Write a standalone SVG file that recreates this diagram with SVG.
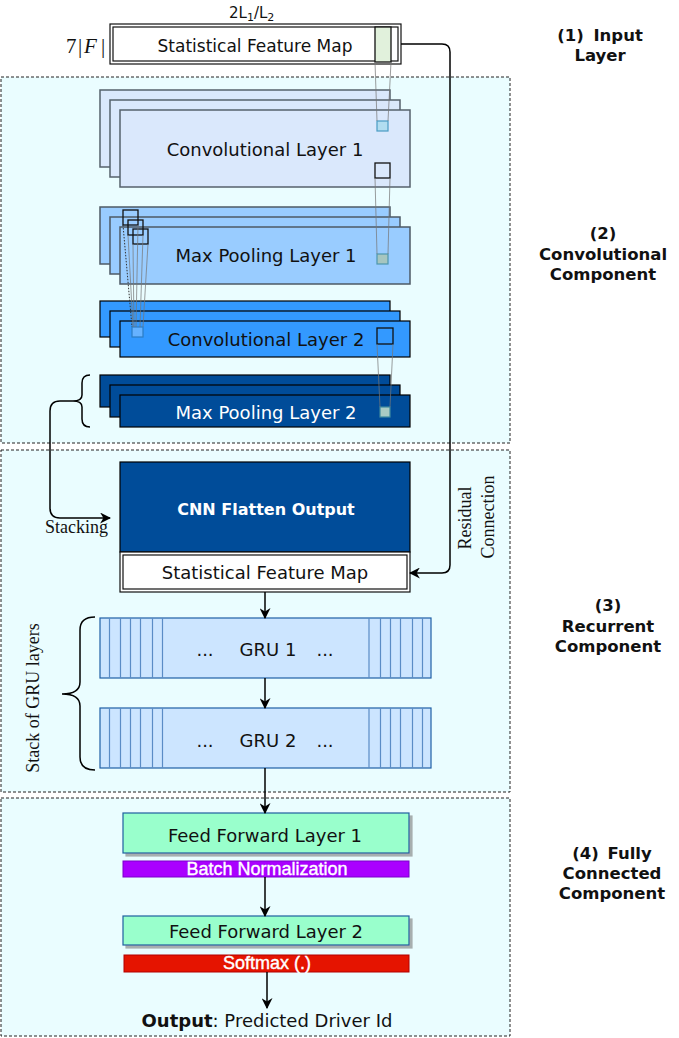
<svg xmlns="http://www.w3.org/2000/svg" width="679" height="1038" viewBox="0 0 679 1038">
<defs>
<marker id="arr" viewBox="0 0 10 10" refX="9" refY="5" markerWidth="11" markerHeight="11" markerUnits="userSpaceOnUse" orient="auto">
<path d="M0,0 L10,5 L0,10 L3,5 z" fill="#000"/>
</marker>
<filter id="shadow" x="-5%" y="-20%" width="115%" height="160%">
<feOffset dx="3" dy="3" in="SourceAlpha" result="o"/>
<feFlood flood-color="#7a7a7a" flood-opacity="0.6"/>
<feComposite in2="o" operator="in" result="s"/>
<feMerge><feMergeNode in="s"/><feMergeNode in="SourceGraphic"/></feMerge>
</filter>
</defs>
<style>
.sec{fill:#eafdff;stroke:#222;stroke-width:1;stroke-dasharray:3 2}
.t{font-family:"DejaVu Sans",Verdana,sans-serif;font-size:18px;fill:#111;text-anchor:middle}
.tw{font-family:"DejaVu Sans",Verdana,sans-serif;font-size:18px;fill:#fff;text-anchor:middle}
.lab{font-family:"DejaVu Sans",Verdana,sans-serif;font-size:16.5px;font-weight:bold;fill:#111;text-anchor:middle}
.ser{font-family:"Liberation Serif","Times New Roman",serif;font-size:18px;fill:#111}
.ar{font-family:"Liberation Sans",Arial,sans-serif;font-size:18px;fill:#fff;stroke:#fff;stroke-width:0.4;text-anchor:middle}
.c1{fill:#dae8fc;stroke:#56616c;stroke-width:1.5}
.p1{fill:#99ccff;stroke:#4d5a66;stroke-width:1.5}
.c2{fill:#3399ff;stroke:#000;stroke-width:1.2}
.p2{fill:#004c99;stroke:#000;stroke-width:1.2}
.gru{fill:#cce5ff;stroke:#1f5fa6;stroke-width:1.2}
.gl{stroke:#5a8cc6;stroke-width:1.2}
.ff{fill:#99ffcc;stroke:#1f5f9f;stroke-width:1.2}
.sq{fill:none;stroke:#111;stroke-width:1.3}
.thin{stroke:#777;stroke-width:0.9;fill:none;stroke-opacity:0.8}
.dot{stroke:#333;stroke-width:1;fill:none;stroke-dasharray:1.5 1.5}
.conn{stroke:#000;stroke-width:1.5;fill:none}
</style>

<g id="sections">
<rect class="sec" x="1" y="77" width="509" height="366"/>
<rect class="sec" x="1" y="450" width="509" height="342"/>
<rect class="sec" x="1" y="798" width="509" height="238"/>
</g>

<g id="labels">
<text class="lab" x="600" y="41" word-spacing="4">(1) Input</text>
<text class="lab" x="600" y="61">Layer</text>
<text class="lab" x="603" y="239">(2)</text>
<text class="lab" x="603" y="260">Convolutional</text>
<text class="lab" x="603" y="280">Component</text>
<text class="lab" x="608" y="611">(3)</text>
<text class="lab" x="608" y="632">Recurrent</text>
<text class="lab" x="608" y="652">Component</text>
<text class="lab" x="612" y="859" word-spacing="3">(4) Fully</text>
<text class="lab" x="612" y="879">Connected</text>
<text class="lab" x="612" y="899">Component</text>
</g>

<g id="input">
<rect x="110" y="24" width="291" height="40" fill="#fff" stroke="#111" stroke-width="1.2"/>
<rect x="113" y="27" width="285" height="34" fill="#fff" stroke="#111" stroke-width="1.2"/>
<rect x="375" y="27" width="16" height="35" fill="#e1f1dc" stroke="#111" stroke-width="1.3"/>
<text class="t" x="255" y="52" style="font-size:17px">Statistical Feature Map</text>
<text font-family="DejaVu Sans,sans-serif" font-size="15" fill="#111" x="229" y="18">2L<tspan font-size="11" dy="3">1</tspan><tspan dy="-3">/L</tspan><tspan font-size="11" dy="3">2</tspan></text>
<text class="ser" style="font-size:21px" y="53"><tspan x="66">7</tspan><tspan x="78">|</tspan><tspan x="84" font-style="italic">F</tspan><tspan x="101">|</tspan></text>
</g>

<g id="conv1">
<rect class="c1" x="100" y="90" width="290" height="77"/>
<rect class="c1" x="110" y="100" width="290" height="77"/>
<rect class="c1" x="120" y="110" width="290" height="77"/>
<text class="t" x="265" y="156">Convolutional Layer 1</text>
<rect x="377" y="121" width="11" height="10" fill="#b1ddf0" stroke="#4a9cc4" stroke-width="1.2"/>
<rect class="sq" x="375" y="163" width="15" height="15"/>
</g>

<g id="pool1">
<rect class="p1" x="100" y="207" width="290" height="57"/>
<rect class="p1" x="110" y="217" width="290" height="57"/>
<rect class="p1" x="120" y="227" width="290" height="57"/>
<text class="t" x="266" y="262">Max Pooling Layer 1</text>
<rect x="377" y="254" width="11" height="10" fill="#a6c6c0" stroke="#4d97ad" stroke-width="1.2"/>
<rect class="sq" x="123" y="210" width="15" height="15"/>
<rect class="sq" x="128" y="220" width="15" height="15"/>
<rect class="sq" x="133" y="229" width="15" height="15"/>
</g>

<g id="conv2">
<rect class="c2" x="100" y="301" width="290" height="36"/>
<rect class="c2" x="110" y="311" width="290" height="36"/>
<rect class="c2" x="120" y="321" width="290" height="36"/>
<text class="t" x="266" y="346">Convolutional Layer 2</text>
<rect x="132" y="327" width="11" height="10" fill="#66b2ff" stroke="#2b7cc4" stroke-width="1.2"/>
<rect class="sq" x="377" y="328" width="16" height="16"/>
</g>

<g id="pool2">
<rect class="p2" x="100" y="375" width="290" height="32"/>
<rect class="p2" x="110" y="385" width="290" height="32"/>
<rect class="p2" x="120" y="395" width="290" height="32"/>
<text class="tw" x="266" y="419">Max Pooling Layer 2</text>
<rect x="380" y="407" width="10" height="10" fill="#a9cbc4" stroke="#3f8aa0" stroke-width="1.2"/>
</g>

<g id="flatten">
<rect x="120" y="462" width="290" height="90" fill="#004c99" stroke="#000" stroke-width="1.2"/>
<text class="tw" x="266" y="515" style="font-size:16px;font-weight:bold">CNN Flatten Output</text>
<rect x="120" y="552" width="290" height="40" fill="#fff" stroke="#111" stroke-width="1.2"/>
<rect x="123" y="555" width="284" height="34" fill="#fff" stroke="#111" stroke-width="1.2"/>
<text class="t" x="265" y="579">Statistical Feature Map</text>
</g>

<g id="gru1">
<rect class="gru" x="100" y="618" width="331" height="60"/>
<path class="gl" d="M109.5,618v60M120.5,618v60M130.5,618v60M140.5,618v60M152.5,618v60M162.5,618v60M369,618v60M380.5,618v60M390.5,618v60M400.5,618v60M412.5,618v60M422.5,618v60"/>
<text class="t" x="205" y="656">...</text>
<text class="t" x="268" y="656">GRU 1</text>
<text class="t" x="325" y="656">...</text>
</g>

<g id="gru2">
<rect class="gru" x="100" y="708" width="331" height="60"/>
<path class="gl" d="M109.5,708v60M120.5,708v60M130.5,708v60M140.5,708v60M152.5,708v60M162.5,708v60M369,708v60M380.5,708v60M390.5,708v60M400.5,708v60M412.5,708v60M422.5,708v60"/>
<text class="t" x="205" y="747">...</text>
<text class="t" x="268" y="747">GRU 2</text>
<text class="t" x="325" y="747">...</text>
</g>

<g id="ff1">
<rect class="ff" x="123" y="813" width="286" height="40" filter="url(#shadow)"/>
<text class="t" x="265" y="842">Feed Forward Layer 1</text>
</g>
<g id="bn">
<rect x="123" y="861" width="286" height="16" fill="#aa00ff" stroke="#7a00cc" stroke-width="1"/>
<text class="ar" x="267" y="875">Batch Normalization</text>
</g>
<g id="ff2">
<rect class="ff" x="123" y="916" width="286" height="29" filter="url(#shadow)"/>
<text class="t" x="266" y="938">Feed Forward Layer 2</text>
</g>
<g id="softmax">
<rect x="124" y="955" width="285" height="17" fill="#e51400" stroke="#b20000" stroke-width="1"/>
<text class="ar" x="267" y="969">Softmax (.)</text>
</g>
<g id="output">
<text class="t" x="267" y="1027"><tspan font-weight="bold">Output</tspan>: Predicted Driver Id</text>
</g>

<g id="connectors">
<path class="thin" d="M375,62L377,121M391,62L388,121"/>
<path class="thin" d="M375,178L377,254M390,178L388,254"/>
<path class="thin" d="M377,344L380,407M393,344L390,407"/>
<path class="dot" d="M123,225L132,327"/>
<path class="thin" d="M128,235L133,327M138,225L136,327M143,235L140,327M148,244L143,327M133,244L134,327"/>
<path class="conn" d="M90,375 Q82,375 82,383 L82,395 Q82,401 73,401 Q82,401 82,407 L82,419 Q82,427 90,427"/>
<path class="conn" d="M73,401 L60,401 Q50,401 50,411 L50,508 Q50,518 60,518 L110,518" marker-end="url(#arr)"/>
<path class="conn" d="M401,44 L442,44 Q450,44 450,52 L450,565 Q450,573 442,573 L410,573" marker-end="url(#arr)"/>
<path class="conn" d="M265,592 L265,618" marker-end="url(#arr)"/>
<path class="conn" d="M265,678 L265,708" marker-end="url(#arr)"/>
<path class="conn" d="M265,768 L265,813" marker-end="url(#arr)"/>
<path class="conn" d="M265,877 L265,916" marker-end="url(#arr)"/>
<path class="conn" d="M267,972 L267,1008" marker-end="url(#arr)"/>
<path class="conn" d="M95,617 Q80,617 80,630 L80,682 Q80,694 62,694 Q80,694 80,706 L80,757 Q80,770 95,770"/>
</g>

<g id="annotations">
<text class="ser" x="45" y="533">Stacking</text>
<text class="ser" transform="translate(471,518) rotate(-90)" text-anchor="middle">Residual</text>
<text class="ser" transform="translate(494,517) rotate(-90)" text-anchor="middle">Connection</text>
<text class="ser" transform="translate(39,698) rotate(-90)" text-anchor="middle">Stack of GRU layers</text>
</g>
</svg>
